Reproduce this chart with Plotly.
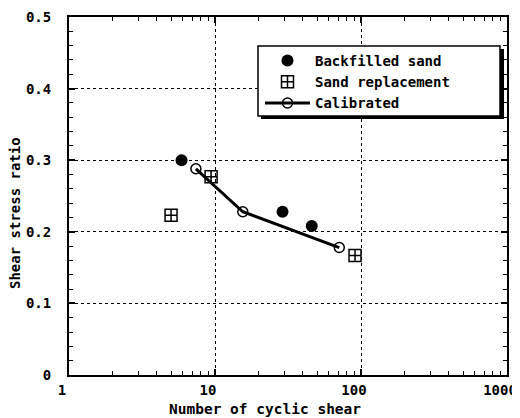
import plotly.graph_objects as go

backfilled_x = [5.9, 29, 46]
backfilled_y = [0.30, 0.228, 0.208]
replacement_x = [5.0, 9.4, 91]
replacement_y = [0.223, 0.277, 0.167]
calibrated_x = [7.4, 15.5, 71]
calibrated_y = [0.288, 0.228, 0.178]

x_ticks = [1, 10, 100, 1000]
x_ticklabels = ["1", "10", "100", "1000"]
x_minor = [m * 10 ** d for d in range(3) for m in range(2, 10)]
y_ticks = [0, 0.1, 0.2, 0.3, 0.4, 0.5]
y_ticklabels = ["0", "0.1", "0.2", "0.3", "0.4", "0.5"]

FONT = "DejaVu Sans Mono"
OFF = 7                      # page offset of the figure div
FIG_W, FIG_H = 520 - OFF, 418 - OFF
L, R, T, B = 68, 506, 16, 374   # plot area in page pixels
W, H = R - L, B - T


def px(xp):
    return (xp - L) / W


def py(yp):
    return (B - yp) / H


fig = go.Figure()
fig.add_trace(go.Scatter(
    x=backfilled_x, y=backfilled_y, mode="markers", name="Backfilled sand",
    marker=dict(symbol="circle", size=12, color="black")))
fig.add_trace(go.Scatter(
    x=replacement_x, y=replacement_y, mode="markers", name="Sand replacement",
    marker=dict(symbol="square-cross-open", size=12, color="black", line=dict(width=1.5))))
fig.add_trace(go.Scatter(
    x=calibrated_x, y=calibrated_y, mode="lines+markers", name="Calibrated",
    line=dict(color="black", width=3),
    marker=dict(symbol="circle-open", size=10, color="black", line=dict(width=1.5))))

axis_common = dict(
    showline=True, linecolor="black", linewidth=2, mirror="allticks",
    ticks="inside", ticklen=6, tickcolor="black", tickwidth=1.5,
    showgrid=True, gridcolor="black", gridwidth=1.2, griddash="dot",
    zeroline=False, automargin=False, ticklabeloverflow="allow",
    tickfont=dict(family=FONT, size=14, color="black", weight="bold"),
)

fig.update_xaxes(
    type="log", range=[0, 3], tickvals=x_ticks, ticktext=x_ticklabels,
    ticklabelstandoff=1, ticklabelshift=-7,
    minor=dict(tickvals=x_minor, ticks="inside", ticklen=4, tickcolor="black",
               tickwidth=1.2, showgrid=False),
    **axis_common)
fig.update_yaxes(
    range=[0, 0.5], tickvals=y_ticks, ticktext=y_ticklabels,
    ticklabelstandoff=13,
    minor=dict(dtick=0.02, ticks="inside", ticklen=4, tickcolor="black",
               tickwidth=1.2, showgrid=False),
    **axis_common)

fig.add_annotation(text="Number of cyclic shear", xref="paper", yref="paper",
                   x=px(264), y=py(408), showarrow=False,
                   xanchor="center", yanchor="middle",
                   font=dict(family=FONT, size=14.5, color="black", weight="bold"))
fig.add_annotation(text="Shear stress ratio", xref="paper", yref="paper",
                   x=px(14), y=py(212), showarrow=False,
                   textangle=-90, xanchor="center", yanchor="middle",
                   font=dict(family=FONT, size=14, color="black", weight="bold"))

# legend box with drop shadow
fig.add_shape(type="rect", xref="paper", yref="paper",
              x0=px(260), x1=px(503), y0=py(118), y1=py(48),
              fillcolor="black", line=dict(width=0), layer="above")
fig.add_shape(type="rect", xref="paper", yref="paper",
              x0=px(257), x1=px(499), y0=py(115), y1=py(45),
              fillcolor="white", line=dict(color="black", width=1.5), layer="above")

fig.update_layout(
    width=FIG_W, height=FIG_H,
    margin=dict(l=L - OFF, r=FIG_W - (R - OFF), t=T - OFF, b=FIG_H - (B - OFF)),
    paper_bgcolor="white", plot_bgcolor="white",
    showlegend=True,
    legend=dict(x=px(259), y=py(44), xanchor="left", yanchor="top",
                bgcolor="rgba(0,0,0,0)", borderwidth=0,
                font=dict(family=FONT, size=14, color="black", weight="bold"),
                tracegroupgap=0, itemwidth=45),
)

fig.write_html("out.html")
